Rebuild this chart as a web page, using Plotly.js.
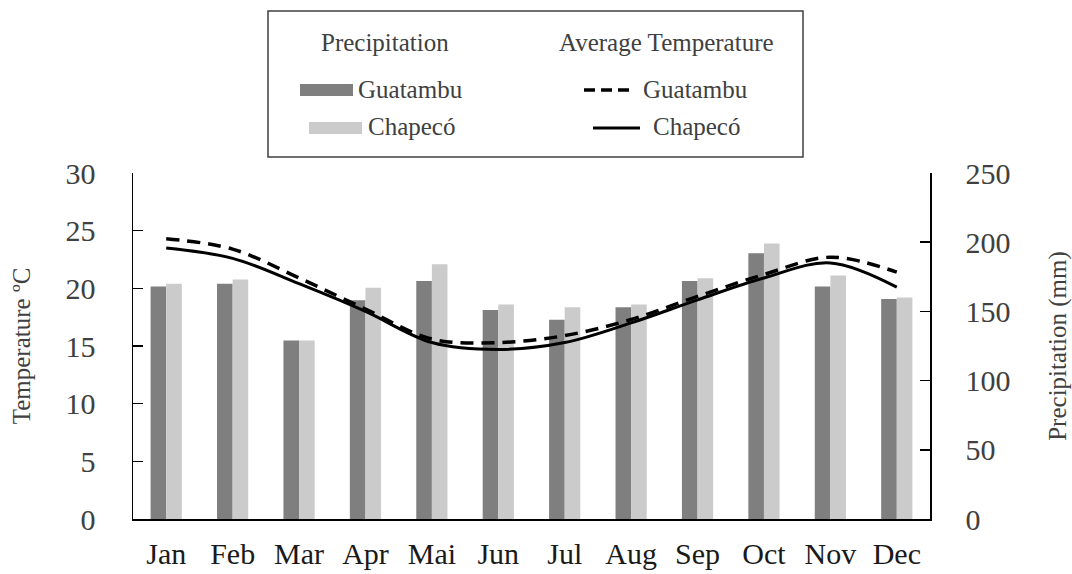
<!DOCTYPE html>
<html>
<head>
<meta charset="utf-8">
<script src="https://cdn.plot.ly/plotly-3.0.1.min.js"></script>
<style>html,body{margin:0;padding:0;background:#fff;}#chart{width:1072px;height:574px;}</style>
</head>
<body>
<div id="chart"></div>
<script>
const months = ['Jan','Feb','Mar','Apr','Mai','Jun','Jul','Aug','Sep','Oct','Nov','Dec'];
const precipGuatambu = [168, 170, 129, 158, 172, 151, 144, 153, 172, 192, 168, 159];
const precipChapeco  = [170, 173, 129, 167, 184, 155, 153, 155, 174, 199, 176, 160];
const tempGuatambu = [24.3, 23.4, 20.9, 18.2, 15.6, 15.3, 15.9, 17.3, 19.3, 21.2, 22.7, 21.4];
const tempChapeco  = [23.5, 22.6, 20.4, 18.0, 15.3, 14.7, 15.3, 17.0, 19.0, 20.9, 22.2, 20.1];

const FONT = 'Liberation Serif';
const darkGray = '#7f7f7f';
const lightGray = '#cbcbcb';

const traces = [
  {type:'bar', name:'Guatambu (precipitation)', x:months, y:precipGuatambu, yaxis:'y', marker:{color:darkGray}},
  {type:'bar', name:'Chapecó (precipitation)', x:months, y:precipChapeco, yaxis:'y', marker:{color:lightGray}},
  {type:'scatter', mode:'lines', name:'Chapecó (temperature)', x:months, y:tempChapeco, yaxis:'y2',
   line:{color:'#000', width:3, shape:'spline', smoothing:1}},
  {type:'scatter', mode:'lines', name:'Guatambu (temperature)', x:months, y:tempGuatambu, yaxis:'y2',
   line:{color:'#000', width:3.5, dash:'13px,8px', shape:'spline', smoothing:1}}
];

const px = v => (v - 133) / 797;
const py = v => (519 - v) / 346;
const legFont = {family:FONT, size:25, color:'#404040'};

const shapes = [
  {type:'rect', xref:'paper', yref:'paper', x0:px(268), x1:px(803), y0:py(157), y1:py(11),
   line:{color:'#404040', width:1.5}, fillcolor:'rgba(0,0,0,0)'},
  {type:'rect', xref:'paper', yref:'paper', x0:px(300), x1:px(353), y0:py(96), y1:py(84),
   line:{width:0}, fillcolor:darkGray},
  {type:'rect', xref:'paper', yref:'paper', x0:px(309), x1:px(362), y0:py(134), y1:py(122),
   line:{width:0}, fillcolor:lightGray},
  {type:'line', xref:'paper', yref:'paper', x0:px(584), x1:px(631), y0:py(90), y1:py(90),
   line:{color:'#000', width:3.5, dash:'11px,6px'}},
  {type:'line', xref:'paper', yref:'paper', x0:px(593), x1:px(640), y0:py(128), y1:py(128),
   line:{color:'#000', width:3}}
];

const annotations = [
  {text:'Precipitation', xref:'paper', yref:'paper', x:px(385), y:py(43), xanchor:'center', yanchor:'middle', showarrow:false, font:legFont},
  {text:'Average Temperature', xref:'paper', yref:'paper', x:px(666), y:py(43), xanchor:'center', yanchor:'middle', showarrow:false, font:legFont},
  {text:'Guatambu', xref:'paper', yref:'paper', x:px(356), y:py(89), xanchor:'left', yanchor:'middle', showarrow:false, font:legFont},
  {text:'Chapecó', xref:'paper', yref:'paper', x:px(366), y:py(127), xanchor:'left', yanchor:'middle', showarrow:false, font:legFont},
  {text:'Guatambu', xref:'paper', yref:'paper', x:px(641), y:py(89), xanchor:'left', yanchor:'middle', showarrow:false, font:legFont},
  {text:'Chapecó', xref:'paper', yref:'paper', x:px(651), y:py(127), xanchor:'left', yanchor:'middle', showarrow:false, font:legFont}
];

const axisCommon = {
  showgrid:false, zeroline:false, showline:true, linecolor:'#000', linewidth:1.5,
  ticks:'inside', ticklen:10, tickwidth:1.5, tickcolor:'#000',
  tickfont:{family:FONT, size:30, color:'#404040'}
};

const layout = {
  width:1072, height:574,
  margin:{l:133, r:142, t:173, b:55, pad:0},
  paper_bgcolor:'#fff', plot_bgcolor:'#fff',
  showlegend:false,
  barmode:'group', bargap:0.53, bargroupgap:0,
  font:{family:FONT},
  xaxis:{type:'category', showgrid:false, zeroline:false, showline:true, linecolor:'#000', linewidth:1.5,
         ticks:'', range:[-0.5, 11.5], tickfont:{family:FONT, size:30, color:'#1a1a1a'}, ticklabelstandoff:7},
  yaxis:Object.assign({}, axisCommon, {side:'right', range:[0,250], tickvals:[0,50,100,150,200,250],
         ticklabelstandoff:28,
         title:{text:'Precipitation (mm)', font:{family:FONT, size:25, color:'#404040'}, standoff:44}}),
  yaxis2:Object.assign({}, axisCommon, {side:'left', overlaying:'y', range:[0,30], tickvals:[0,5,10,15,20,25,30],
         ticklabelstandoff:30,
         title:{text:'Temperature ºC', font:{family:FONT, size:25, color:'#404040'}, standoff:28}}),
  shapes:shapes,
  annotations:annotations
};

Plotly.newPlot('chart', traces, layout, {displayModeBar:false, staticPlot:true});
</script>
</body>
</html>
